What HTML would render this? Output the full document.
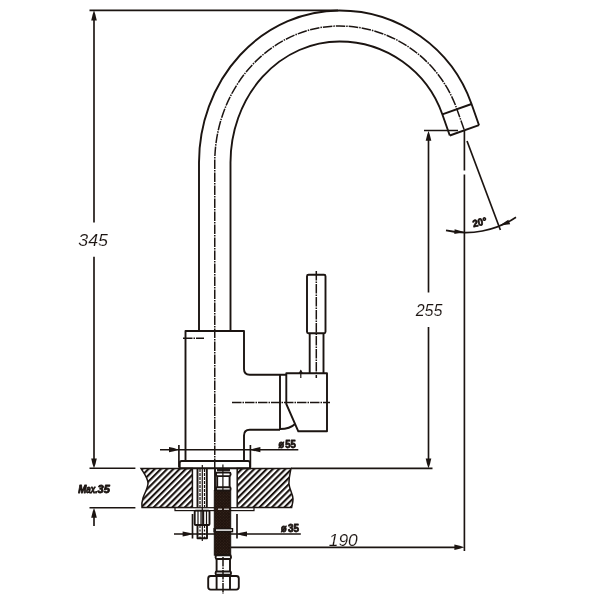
<!DOCTYPE html>
<html><head><meta charset="utf-8">
<style>
html,body{margin:0;padding:0;background:#fff;}
body{width:600px;height:600px;overflow:hidden;font-family:"Liberation Sans",sans-serif;}
svg{display:block}
.o{fill:none;stroke:#1b1411;stroke-width:1.9;stroke-linecap:butt;stroke-linejoin:round}
.d{fill:none;stroke:#1b1411;stroke-width:1.65}
.c{fill:none;stroke:#1b1411;stroke-width:1.5;stroke-dasharray:9.5 1 1.5 1}
.t{fill:none;stroke:#1b1411;stroke-width:1.2}
.a{fill:#1b1411;stroke:none}
.num{font-family:"Liberation Sans",sans-serif;font-style:italic;font-size:16px;fill:#1b1411;stroke:#fff;stroke-width:.12;paint-order:fill stroke}
.b{font-family:"Liberation Sans",sans-serif;font-weight:bold;font-size:10px;fill:#1b1411;stroke:#1b1411;stroke-width:.8;stroke-linejoin:round}
</style></head><body>
<svg width="600" height="600" viewBox="0 0 600 600" style="will-change:transform;opacity:.999">
<defs>
<pattern id="h" width="4.4" height="4.4" patternUnits="userSpaceOnUse" patternTransform="rotate(-45)">
<rect width="4.4" height="4.4" fill="#fff"/><rect y="0" width="4.4" height="2.1" fill="#1b1411"/>
</pattern>
<pattern id="br" width="2" height="2" patternUnits="userSpaceOnUse" patternTransform="rotate(45)">
<rect width="2" height="2" fill="#20130d"/><rect width=".7" height=".7" fill="#4a3a30"/>
</pattern>
</defs>
<rect width="600" height="600" fill="#fff"/>

<!-- SPOUT -->
<g id="spout">
<path class="o" d="M199 331 V162.5 A140.5 152 0 0 1 339.5 10.5 A140 140 0 0 1 471.55 104 L479.02 125.22"/>
<path class="o" d="M230.5 331 V162.5 A109 121 0 0 1 339.5 41.5 A109 109 0 0 1 442.31 114.29 L449.78 135.52"/>
<path class="o" d="M442.31 114.29 L471.55 104"/>
<path class="o" d="M449.78 135.52 L479.02 125.22"/>
<path class="c" d="M214.75 468 V162.5 A124.75 136.5 0 0 1 339.5 26 A124.5 124.5 0 0 1 456.93 109.15 L464.4 130.37"/>
</g>

<!-- BODY -->
<g id="body">
<path class="o" d="M185.5 461 V331 H244 V369 Q244 374.7 249.7 374.7 H286.3"/>
<path class="o" d="M244 461 V435.4 Q244 429.7 249.7 429.7 H280"/>
<path class="o" d="M280 374.7 V429.7"/>
<path class="o" d="M286.3 373.3 H327 V431.3 H298.3 L286.3 404 Z"/>
<path class="o" d="M280 429 Q290 429 295 424"/>
<path class="o" d="M179.7 468 V463 Q179.7 461 181.7 461 H248 Q250 461 250 463 V468"/>
<rect class="o" x="307" y="274.7" width="18.5" height="58.6" rx="1.5"/>
<path class="o" d="M309.7 333.3 V373.3 M323.5 333.3 V373.3"/>
<path class="c" d="M316.3 271 V378"/>
<path class="t" d="M300.8 370.5 V378"/>
<path class="a" d="M300.8 369.5 L298.8 373 H302.8 Z"/>
<path class="c" d="M232 402.5 H330"/>
<path class="c" d="M183 338.3 H204"/>
</g>

<!-- COUNTERTOP -->
<g id="top">
<path d="M141 468.4 H192.4 V507.6 H142 C141.5 503 142 501 143 498 C145 492 148 488 148 483 C147.5 477 143 472 141 468.4 Z" fill="url(#h)" stroke="#1b1411" stroke-width="1.5"/>
<path d="M237.2 468.4 H291 C290 474 288.7 478 289 484 C289.5 490 293 494 293 499 C293 503 292 505 291.6 507.6 H237.2 Z" fill="url(#h)" stroke="#1b1411" stroke-width="1.5"/>
<path class="d" d="M291 468.3 H432.5"/>
<path class="o" d="M179 468.3 H251"/>
<rect x="175" y="507.7" width="79" height="2.9" fill="#fff" stroke="#1b1411" stroke-width="1.2"/>
</g>

<path class="d" d="M174 534 H300.8"/>
<!-- BOLT -->
<g id="bolt">
<path class="o" d="M197.5 468.5 V507.5 M206.8 468.5 V507.5"/>
<path class="t" stroke-dasharray="3 1" d="M200 469 V507 M204.5 469 V507"/>
<path class="t" d="M202.3 465 V541"/>
<rect class="o" x="194.7" y="510.6" width="14.8" height="14.4" rx="1"/>
<path class="t" d="M198 511 V525 M201 511 V525 M203.6 511 V525 M206.5 511 V525"/>
<path class="o" d="M197.5 525 V538.3 H207 V525"/>
<path class="t" stroke-dasharray="2 1.5" d="M200 526 V538 M204.5 526 V538"/>
</g>

<!-- HOSE -->
<g id="hose">
<rect x="214.3" y="490.5" width="16.4" height="64.7" fill="url(#br)" stroke="#1b1411" stroke-width="1"/>
<path class="o" d="M215 468.5 V491"/>
<rect class="o" x="216" y="472.5" width="14.6" height="3.6" rx="1.5" fill="#fff"/>
<path class="o" d="M217.2 476 V487.5 M229.6 476 V487.5"/>
<rect class="o" x="216" y="487.3" width="14.6" height="3.2" rx="1.2" fill="#fff"/>
<path class="o" d="M217 470 H230"/>
<path class="t" d="M222.9 464.5 V490"/>
<rect x="213.4" y="528" width="19.8" height="4.4" fill="#1b1411"/>
<path d="M216 530.1 H232" stroke="#fff" stroke-width="1.4"/>
<path d="M218 509.2 H222 M224 509.2 H229" stroke="#fff" stroke-width="1"/>
<rect class="o" x="215.6" y="555.3" width="15.4" height="3.7" rx="1.5" fill="#fff"/>
<path class="o" d="M216.6 559 V571.5 M230 559 V571.5"/>
<rect class="o" x="215.6" y="571.5" width="15.4" height="3.2" rx="1.3" fill="#fff"/>
<rect class="o" x="208.2" y="576" width="30.6" height="13.6" rx="2.5" fill="#fff"/>
<path class="o" d="M216.6 576 V589.5 M230 576 V589.5"/>
<path class="c" d="M223 557 V594"/>
</g>

<!-- DIMENSIONS -->
<g id="dims">
<path class="d" d="M89.5 10.4 H338"/>
<path class="d" d="M94 16 V222.5 M94 256.7 V462"/>
<path class="a" d="M94 10.2 Q92.3 15 91.2 20.6 H96.8 Q95.7 15 94 10.2 Z"/>
<path class="a" d="M94 468.2 Q92.3 464 91.2 458.4 H96.8 Q95.7 464 94 468.2 Z"/>
<path class="d" d="M89.5 468.2 H135.4 M89.5 507.7 H135.4"/>
<path class="d" d="M94 514 V526"/>
<path class="a" d="M94 508 Q92.3 512 91.2 517.8 H96.8 Q95.7 512 94 508 Z"/>
<text class="num" x="78.3" y="245.7" textLength="29.7" lengthAdjust="spacingAndGlyphs">345</text>

<path class="d" d="M424 130.5 H458"/>
<path class="d" d="M428.5 136 V292.5 M428.5 327 V462"/>
<path class="a" d="M428.5 131 Q426.8 135 425.7 140.8 H431.3 Q430.2 135 428.5 131 Z"/>
<path class="a" d="M428.5 468.2 Q426.8 464 425.7 458.4 H431.3 Q430.2 464 428.5 468.2 Z"/>
<text class="num" x="415.7" y="316.4" textLength="26.8" lengthAdjust="spacingAndGlyphs">255</text>

<path class="d" d="M464.4 131 V170.5 M464.4 174.5 V551"/>
<path class="d" d="M467 141 L500.4 230"/>
<path class="d" d="M446 230.4 A91 91 0 0 0 516 217.3"/>
<path class="a" d="M464.3 232 L454.6 229.2 L454.3 234 Z"/>
<path class="a" d="M499.6 225.6 L508.3 219.8 L510.2 224.3 Z"/>
<text class="b" font-size="11.5" transform="translate(473.4 227.2) rotate(-13)" textLength="14.5" lengthAdjust="spacingAndGlyphs">20°</text>

<path class="d" d="M231 547.3 H458"/>
<path class="a" d="M464.3 547.3 Q460 545.6 454.4 544.5 V550.1 Q460 549 464.3 547.3 Z"/>
<text class="num" font-size="17.6" x="328.8" y="546" textLength="29" lengthAdjust="spacingAndGlyphs">190</text>

<path class="d" d="M160 449.7 H298.3"/>
<path class="a" d="M178.6 449.7 Q174 448 169 447.1 V452.3 Q174 451.4 178.6 449.7 Z"/>
<path class="a" d="M250.6 449.7 Q255 448 260.4 447.1 V452.3 Q255 451.4 250.6 449.7 Z"/>
<path class="d" d="M178.9 445 V467.5 M250.4 445 V467.5"/>
<text class="b" font-size="9.5" x="278.6" y="447.8" textLength="5.6" lengthAdjust="spacingAndGlyphs">ø</text><text class="b" font-size="11.4" x="285.3" y="447.8" textLength="10.6" lengthAdjust="spacingAndGlyphs">55</text>

<path class="a" d="M192.3 534 Q188 532.3 182.6 531.4 V536.6 Q188 535.7 192.3 534 Z"/>
<path class="a" d="M237.2 534 Q241.5 532.3 247 531.4 V536.6 Q241.5 535.7 237.2 534 Z"/>
<path class="d" d="M192.5 514 V538.5 M237 514 V538.5"/>
<text class="b" font-size="9.5" x="281" y="532" textLength="5.6" lengthAdjust="spacingAndGlyphs">ø</text><text class="b" font-size="11.2" x="288.1" y="532" textLength="11" lengthAdjust="spacingAndGlyphs">35</text>

<text class="b" font-style="italic" font-size="11.6" x="78.2" y="492.8" textLength="8.2" lengthAdjust="spacingAndGlyphs" stroke-width=".6">M</text><text class="b" font-style="italic" font-size="10" x="86.3" y="492.8" textLength="11.2" lengthAdjust="spacingAndGlyphs" stroke-width=".6">ax.</text><text class="b" font-style="italic" font-size="10.6" x="97.6" y="492.8" textLength="12.2" lengthAdjust="spacingAndGlyphs" stroke-width=".6">35</text>
</g>
</svg>
</body></html>
